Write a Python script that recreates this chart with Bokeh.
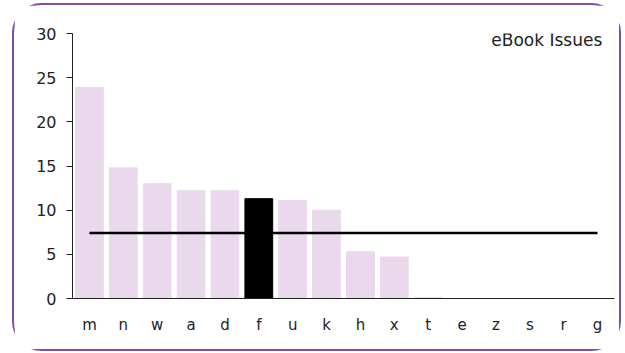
from bokeh.plotting import figure
from bokeh.models import FixedTicker, Label, ColumnDataSource
from bokeh.embed import file_html
from bokeh.resources import INLINE

categories = ["m", "n", "w", "a", "d", "f", "u", "k", "h", "x", "t", "e", "z", "s", "r", "g"]
values = [23.9, 14.8, 13.0, 12.2, 12.2, 11.3, 11.1, 10.0, 5.3, 4.7, 0.1, 0.0, 0.0, 0.0, 0.0, 0.0]
highlight = "f"
title_text = "eBook Issues"
y_ticks = [0, 5, 10, 15, 20, 25, 30]

mean_value = sum(values) / len(values)

FONT = "DejaVu Sans"
BAR = "#ead9ec"

colors = ["#000000" if c == highlight else BAR for c in categories]
src = ColumnDataSource(dict(cat=categories, val=values, color=colors))

p = figure(
    x_range=categories, y_range=(0, 30),
    width=605, height=344,
    output_backend="svg", toolbar_location=None,
    min_border_left=58, min_border_right=9, min_border_top=28, min_border_bottom=55,
)
p.styles = {"border": "2px solid #7d4ea3", "border-radius": "30px",
            "margin-left": "12px", "margin-top": "3px", "box-sizing": "content-box"}
p.outline_line_color = None
p.xgrid.visible = False
p.ygrid.visible = False

p.vbar(x="cat", top="val", width=0.82, source=src, fill_color="color", line_color="color")

p.line(x=[categories[0], categories[-1]], y=[mean_value, mean_value], line_color="#000000", line_width=2.5)

p.yaxis.ticker = FixedTicker(ticks=y_ticks)
p.yaxis.major_tick_out = 6
p.yaxis.major_tick_in = 0
p.yaxis.minor_tick_line_color = None
p.yaxis.major_label_standoff = 10
p.yaxis.major_label_text_font = FONT
p.yaxis.major_label_text_font_size = "16px"
p.yaxis.major_label_text_color = "#222222"
p.yaxis.axis_line_color = "#222222"
p.yaxis.major_tick_line_color = "#222222"

p.xaxis.major_tick_line_color = None
p.xaxis.minor_tick_line_color = None
p.xaxis.major_label_standoff = 11
p.xaxis.major_label_text_font = FONT
p.xaxis.major_label_text_font_size = "15px"
p.xaxis.major_label_text_color = "#222222"
p.xaxis.axis_line_color = "#222222"

p.add_layout(Label(x=15.64, y=29.3, text=title_text, text_align="right", text_baseline="alphabetic",
                   text_font=FONT, text_font_size="17px", text_color="#222222"))

open("out.html", "w").write(file_html(p, INLINE))
